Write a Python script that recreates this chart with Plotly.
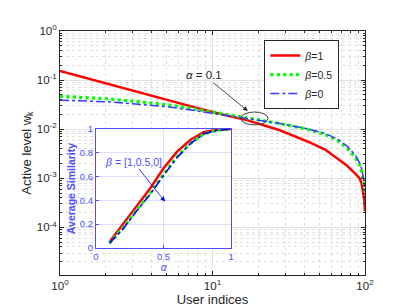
import plotly.graph_objects as go

# ---------------- data ----------------
user_k = [1, 2, 3, 5, 8, 12, 17, 27, 42, 55, 66, 76, 86, 92, 95, 97, 99, 100]
w_beta1 = [0.153, 0.0851, 0.0603, 0.0389, 0.0269, 0.0195, 0.0151, 0.00977, 0.00562,
           0.0038, 0.00257, 0.00182, 0.00126, 0.001, 0.000794, 0.000562, 0.000355, 0.000214]
w_beta05 = [0.0468, 0.0417, 0.0372, 0.0316, 0.0251, 0.0204, 0.0166, 0.0132, 0.0100,
            0.00776, 0.00589, 0.00417, 0.00269, 0.00186, 0.00138, 0.00105, 0.000708, 0.000501]
w_beta0 = [0.0389, 0.0363, 0.0331, 0.0288, 0.0234, 0.0195, 0.0162, 0.0132, 0.0102,
           0.00813, 0.00631, 0.00457, 0.00302, 0.00209, 0.00158, 0.00117, 0.000794, 0.000537]

alpha = [0.1, 0.2, 0.3, 0.4, 0.5, 0.6, 0.7, 0.8, 0.9, 1.0]
sim_beta1 = [0.05, 0.20, 0.36, 0.50, 0.67, 0.81, 0.91, 0.975, 0.995, 1.0]
sim_beta05 = [0.04, 0.17, 0.32, 0.46, 0.62, 0.77, 0.88, 0.96, 0.99, 1.0]
sim_beta0 = [0.04, 0.16, 0.31, 0.45, 0.61, 0.76, 0.88, 0.96, 0.99, 1.0]

legend_names = ["<i>β</i>=1", "<i>β</i>=0.5", "<i>β</i>=0"]
x_tickvals = [1, 10, 100]
x_ticktext = ["10<sup>0</sup>", "10<sup>1</sup>", "10<sup>2</sup>"]
y_tickvals = [1, 0.1, 0.01, 0.001, 0.0001]
y_ticktext = ["10<sup>0</sup>", "10<sup>-1</sup>", "10<sup>-2</sup>", "10<sup>-3</sup>", "10<sup>-4</sup>"]

RED = "#ff0000"
GREEN = "#00ff00"
BLUE = "#0000ff"
LIGHT_BLUE = "#3a3aff"
INSET_BLUE = "#4d4dff"
GRAY = "#262626"

fig = go.Figure()

# main curves
fig.add_trace(go.Scatter(x=user_k, y=w_beta1, mode="lines", name=legend_names[0],
                         line=dict(color=RED, width=2.5), xaxis="x", yaxis="y"))
fig.add_trace(go.Scatter(x=user_k, y=w_beta05, mode="lines", name=legend_names[1],
                         line=dict(color=GREEN, width=3.2, dash="dot"), xaxis="x", yaxis="y"))
fig.add_trace(go.Scatter(x=user_k, y=w_beta0, mode="lines", name=legend_names[2],
                         line=dict(color=LIGHT_BLUE, width=1.5, dash="dashdot"), xaxis="x", yaxis="y"))

# inset curves
fig.add_trace(go.Scatter(x=alpha, y=sim_beta1, mode="lines", showlegend=False,
                         line=dict(color=RED, width=2.5), xaxis="x2", yaxis="y2"))
fig.add_trace(go.Scatter(x=alpha, y=sim_beta05, mode="lines", showlegend=False,
                         line=dict(color=GREEN, width=3.2, dash="dot"), xaxis="x2", yaxis="y2"))
fig.add_trace(go.Scatter(x=alpha, y=sim_beta0, mode="lines", showlegend=False,
                         line=dict(color=BLUE, width=1.6, dash="dashdot"), xaxis="x2", yaxis="y2"))

font = "Liberation Sans, Arial, sans-serif"

fig.update_layout(
    width=395, height=308,
    margin=dict(l=52, r=38, t=23, b=41),
    paper_bgcolor="white", plot_bgcolor="white",
    font=dict(family=font, size=11, color=GRAY),
    showlegend=True,
    legend=dict(x=0.67, y=0.963, xanchor="left", yanchor="top",
                bgcolor="white", bordercolor=GRAY, borderwidth=1,
                font=dict(size=10.5, color=GRAY), tracegroupgap=0,
                itemwidth=30),
    xaxis=dict(type="log", range=[0, 2], domain=[0, 1], anchor="y",
               tickvals=x_tickvals, ticktext=x_ticktext,
               ticks="inside", ticklen=4, tickcolor=GRAY,
               showline=True, linecolor=GRAY, linewidth=1, mirror="ticks",
               showgrid=True, gridcolor="#e2e2e2", gridwidth=1,
               minor=dict(ticks="inside", ticklen=2, tickcolor=GRAY, dtick="D1",
                          showgrid=True, gridcolor="#e0e0e0", griddash="dot"),
               title=dict(text="User indices", font=dict(size=13, color=GRAY), standoff=4),
               tickfont=dict(size=11.5, color=GRAY), zeroline=False),
    yaxis=dict(type="log", range=[-4.97, 0], domain=[0, 1], anchor="x",
               tickvals=y_tickvals, ticktext=y_ticktext,
               ticks="inside", ticklen=4, tickcolor=GRAY,
               showline=True, linecolor=GRAY, linewidth=1, mirror="ticks",
               showgrid=True, gridcolor="#e2e2e2", gridwidth=1,
               minor=dict(ticks="inside", ticklen=2, tickcolor=GRAY, dtick="D1",
                          showgrid=True, gridcolor="#e0e0e0", griddash="dot"),
               title=dict(text="Active level w<sub>k</sub>", font=dict(size=13, color=GRAY), standoff=2),
               tickfont=dict(size=11.5, color=GRAY), zeroline=False),
    xaxis2=dict(range=[0, 1], domain=[0.118, 0.561], anchor="y2",
                tickvals=[0, 0.5, 1], ticktext=["0", "0.5", "1"],
                ticks="inside", ticklen=3, tickcolor=INSET_BLUE,
                showline=True, linecolor=INSET_BLUE, linewidth=1, mirror=True,
                showgrid=True, gridcolor="#dcdcff", gridwidth=1, zeroline=False,
                tickfont=dict(size=9.5, color=INSET_BLUE),
                title=dict(text="<i>α</i>", font=dict(size=10, color=INSET_BLUE), standoff=2)),
    yaxis2=dict(range=[0, 1], domain=[0.111, 0.598], anchor="x2",
                tickvals=[0, 0.2, 0.4, 0.6, 0.8, 1], ticktext=["0", "0.2", "0.4", "0.6", "0.8", "1"],
                ticks="inside", ticklen=3, tickcolor=INSET_BLUE,
                showline=True, linecolor=INSET_BLUE, linewidth=1, mirror=True,
                showgrid=True, gridcolor="#dcdcff", gridwidth=1, zeroline=False,
                tickfont=dict(size=9.5, color=INSET_BLUE),
                title=dict(text="<b>Average Similarity</b>", font=dict(size=10.5, color=INSET_BLUE), standoff=2)),
)

# ellipse marking the alpha=0.1 region
fig.add_shape(type="circle", xref="x domain", yref="y domain",
              x0=0.593, x1=0.682, y0=0.615, y1=0.668,
              line=dict(color="#404040", width=1), layer="above")

fig.add_annotation(xref="x domain", yref="y domain", x=0.616, y=0.672,
                   text="<i>α</i> = 0.1", showarrow=True, arrowhead=2, arrowsize=1.2,
                   arrowwidth=0.8, arrowcolor="#202020", ax=-44, ay=-36,
                   font=dict(size=11.5, color=GRAY))

fig.add_annotation(xref="x2", yref="y2", x=0.511, y=0.39,
                   text="<i>β</i> = [1,0.5,0]", showarrow=True, arrowhead=2, arrowsize=1.2,
                   arrowwidth=0.8, arrowcolor=BLUE, ax=-32, ay=-40,
                   font=dict(size=10.5, color=INSET_BLUE))

fig.write_html("out.html")
